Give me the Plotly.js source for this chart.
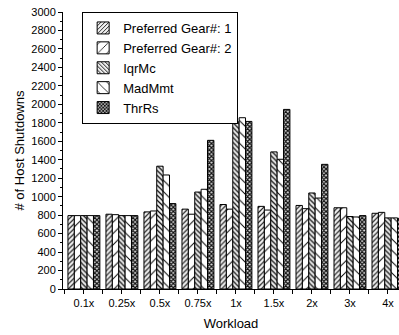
<!DOCTYPE html>
<html>
<head>
<meta charset="utf-8">
<script src="https://cdn.plot.ly/plotly-3.0.1.min.js"></script>
<style>html,body{margin:0;padding:0;background:#fff;}#chart{width:399px;height:335px;}</style>
</head>
<body>
<div id="chart"></div>
<script>
const categories = ["0.1x","0.25x","0.5x","0.75x","1x","1.5x","2x","3x","4x"];
const seriesNames = ["Preferred Gear#: 1","Preferred Gear#: 2","IqrMc","MadMmt","ThrRs"];
const gear1  = [795, 810, 835, 865, 915, 895, 905, 880, 820];
const gear2  = [795, 805, 845, 810, 865, 855, 870, 880, 830];
const iqrMc  = [795, 795, 1330, 1050, 1810, 1485, 1040, 785, 770];
const madMmt = [795, 795, 1235, 1080, 1855, 1405, 985, 780, 770];
const thrRs  = [795, 795, 925, 1610, 1815, 1945, 1350, 795, 765];
const seriesValues = [gear1, gear2, iqrMc, madMmt, thrRs];

const patterns = [
  {shape: "/",  size: 3.5, solidity: 0.35, fgcolor: "#222", bgcolor: "#f2f2f2"},
  {shape: "/",  size: 8, solidity: 0.12, fgcolor: "#000", bgcolor: "#fff"},
  {shape: "\\", size: 3.5, solidity: 0.35, fgcolor: "#111", bgcolor: "#eee"},
  {shape: "\\", size: 8, solidity: 0.12, fgcolor: "#000", bgcolor: "#fff"},
  {shape: "x",  size: 3, solidity: 0.65, fgcolor: "#111", bgcolor: "#ddd"}
];

const xIdx = categories.map((c, i) => i);
const traces = seriesValues.map((vals, k) => ({
  type: "bar",
  name: seriesNames[k],
  x: xIdx,
  y: vals,
  marker: {
    color: "#fff",
    line: {color: "#000", width: 1},
    pattern: patterns[k]
  }
}));

const layout = {
  width: 399, height: 335,
  margin: {l: 63, r: 0, t: 12, b: 46},
  paper_bgcolor: "#fff", plot_bgcolor: "#fff",
  barmode: "group",
  bargap: 0.16,
  bargroupgap: 0,
  font: {family: "Liberation Sans, Arial, sans-serif", color: "#000", size: 11},
  showlegend: true,
  legend: {
    x: 0.057, y: 1.0, xanchor: "left", yanchor: "top",
    bgcolor: "#fff", bordercolor: "#000", borderwidth: 1,
    font: {size: 13, family: "Liberation Sans, Arial, sans-serif"},
    tracegroupgap: 0, itemwidth: 30
  },
  xaxis: {
    type: "linear",
    range: [-0.55, 8.29],
    tickvals: xIdx,
    ticktext: categories,
    ticks: "outside", ticklen: 4, tickcolor: "#000",
    showline: true, linecolor: "#000", linewidth: 1,
    showgrid: false, zeroline: false,
    minor: {tick0: 0.5, dtick: 1, ticks: "outside", ticklen: 4, tickcolor: "#000", showgrid: false},
    tickfont: {size: 11},
    title: {text: "Workload", font: {size: 13}, standoff: 10}
  },
  yaxis: {
    range: [0, 3000],
    dtick: 200,
    ticks: "outside", ticklen: 4, tickcolor: "#000",
    showline: true, linecolor: "#000", linewidth: 1,
    showgrid: false, zeroline: false,
    minor: {dtick: 100, ticks: "outside", ticklen: 2, tickcolor: "#000", showgrid: false},
    tickfont: {size: 11},
    title: {text: "# of Host Shutdowns", font: {size: 13}, standoff: 3}
  }
};

Plotly.newPlot("chart", traces, layout, {displayModeBar: false, staticPlot: true});
</script>
</body>
</html>
